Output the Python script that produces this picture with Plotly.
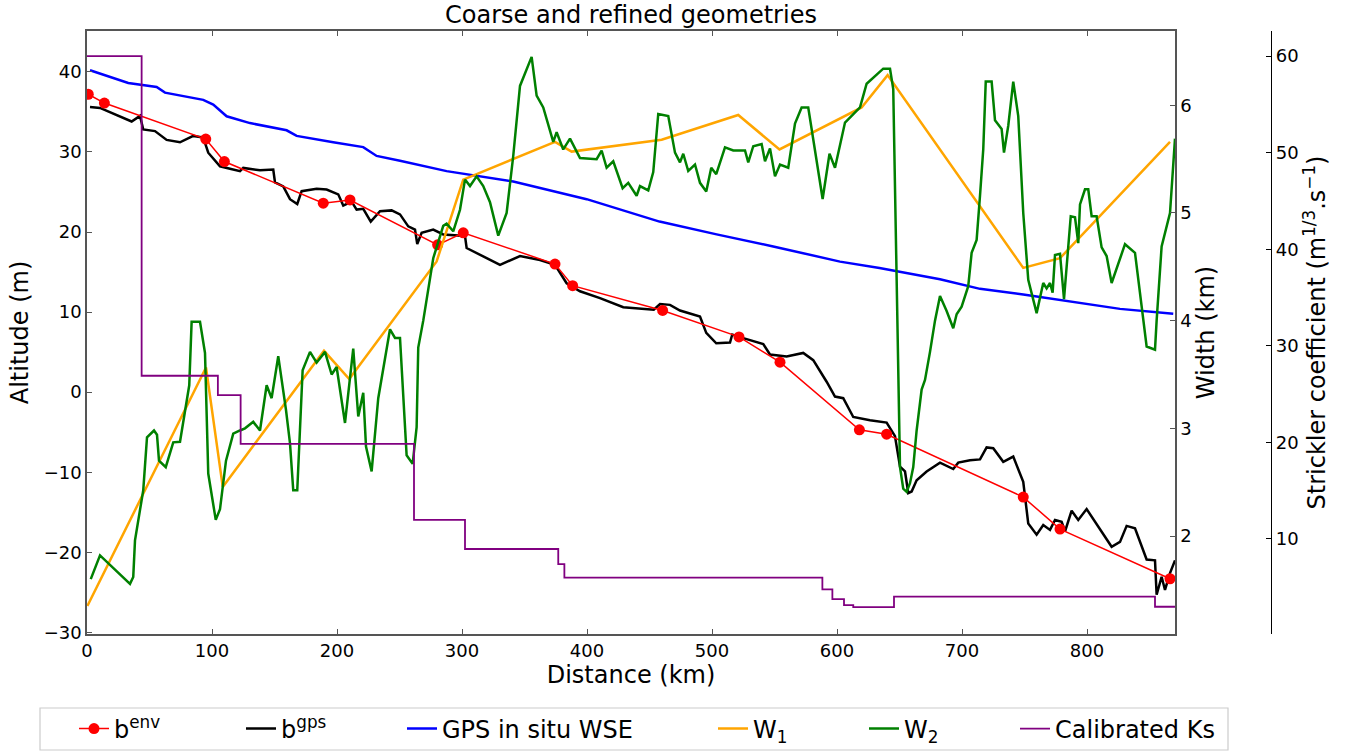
import plotly.graph_objects as go

# ---------------- data ----------------
benv_x = [1, 13.9, 95, 109.9, 189, 210.4, 280.5, 301, 374.4, 388.5, 460.5, 521.6,
          554.4, 617.9, 639.7, 749, 778.4, 866.4]
benv_alt = [37.2, 36.1, 31.6, 28.8, 23.6, 24.0, 18.4, 19.9, 16.0, 13.3, 10.2, 6.9,
            3.75, -4.7, -5.25, -13.1, -17.1, -23.3]

bgps_x = [2.4, 10.4, 35.7, 42.4, 45, 54.4, 63.7, 74.4, 85, 93, 97, 106.4, 114.4, 122.4,
          125, 138.4, 149, 150.4, 157, 162.4, 168.2, 171.7, 183.7, 191.7, 201, 205, 211.7,
          215.7, 221, 227, 234.4, 243.7, 250.4, 257, 262.4, 264.2, 267.7, 277, 285, 302.4,
          303.7, 317, 330.4, 346.4, 362.4, 374.4, 383.7, 394.4, 410.4, 429, 448, 453.4,
          458.4, 466.4, 474.4, 490.4, 495.4, 503.4, 514.4, 516.2, 525, 541, 546.4, 559.7,
          573, 581, 591.7, 598.4, 605, 613, 626.4, 634.4, 639.7, 646.4, 650.4, 654.4, 657,
          659.7, 663.7, 671.7, 682.4, 693, 697, 706.4, 714.4, 719.7, 725, 733, 741, 749,
          753, 759.7, 765, 770.4, 774.4, 779.7, 782.4, 787.7, 793, 799.7, 809, 819.7,
          826.4, 831.7, 838.4, 847.7, 854.4, 855.7, 859.7, 862.4, 866.4, 870.4]
bgps_alt = [35.6, 35.5, 33.8, 34.5, 32.8, 32.6, 31.5, 31.2, 32.0, 31.8, 29.9, 28.2, 27.9,
            27.6, 28.0, 27.7, 27.8, 26.2, 25.7, 24.1, 23.5, 25.1, 25.4, 25.3, 24.7, 23.3,
            23.8, 22.8, 22.9, 21.3, 22.6, 22.7, 22.2, 20.7, 20.3, 18.5, 19.9, 20.3, 19.7,
            19.5, 18.0, 17.0, 15.9, 17.0, 16.5, 15.9, 13.6, 12.6, 11.75, 10.6, 10.4, 10.3,
            11.0, 10.9, 10.2, 9.45, 7.4, 6.1, 6.2, 7.2, 6.75, 6.0, 4.7, 4.45, 4.9, 4.0, 1.3,
            -0.55, -0.75, -3.1, -3.5, -3.7, -3.8, -5.5, -9.3, -9.9, -12.6, -12.4, -11.0,
            -9.9, -8.8, -9.6, -8.8, -8.5, -8.4, -6.9, -7.0, -8.7, -8.05, -11.2, -16.4,
            -17.8, -16.6, -17.2, -15.96, -16.2, -17.4, -14.8, -15.96, -14.6, -16.8, -19.3,
            -18.7, -16.7, -17.0, -20.9, -21.0, -25.3, -23.05, -24.7, -22.6, -21.0]

wse_x = [2.4, 33, 55.7, 62.4, 93, 101, 111.7, 130.4, 159.7, 167.7, 197, 221, 231.7, 250.4,
         287.7, 341, 399.7, 458, 503.7, 549, 602.4, 634, 682.4, 714.4, 749, 783.7, 826.4, 869]
wse_alt = [40.2, 38.6, 38.1, 37.4, 36.5, 35.9, 34.45, 33.6, 32.7, 32.0, 31.2, 30.6, 29.5,
           28.9, 27.6, 26.3, 24.1, 21.3, 19.7, 18.2, 16.3, 15.5, 14.1, 12.9, 12.2, 11.4,
           10.4, 9.8]

w1_x = [0.3, 95.2, 108.6, 189.6, 209.8, 279.7, 301, 374.4, 387.7, 459.7, 521, 554, 619.7,
        640.5, 749, 778.4, 866.4]
w1_km = [1.35, 3.565, 2.456, 3.72, 3.457, 4.55, 5.31, 5.66, 5.57, 5.68, 5.91, 5.59, 5.98,
         6.28, 4.49, 4.58, 5.66]

w2_x = [3, 10.4, 34.4, 37, 38.4, 45, 48, 53.6, 56, 57.6, 63, 69, 74.4, 81.8, 83.7, 90.4,
        94.4, 97, 103, 106.4, 111.2, 117, 122.4, 126.4, 133, 138.4, 143.7, 147.7, 153,
        159.2, 162.4, 165, 168.2, 172.5, 178.4, 183.7, 190.4, 195.7, 199.7, 206.4, 213, 217,
        221, 223.2, 227.7, 233, 242.4, 246.4, 250.4, 255.7, 260.5, 263.7, 265, 269, 277,
        285, 287.7, 293, 298.4, 302.4, 306.4, 311.7, 317, 322.4, 329, 335.7, 341, 346.4,
        355.7, 359.7, 365, 373, 375.7, 381, 386.4, 394.4, 407.7, 411.7, 415.7, 421, 428.5,
        433, 439.7, 442.4, 449, 453, 457, 465, 470.4, 474.4, 477, 481, 486.4, 490.4, 495.4,
        499.4, 503.4, 510.4, 517, 526.4, 529, 533, 539.7, 542.4, 546.4, 550.4, 554.4, 561,
        566.4, 571.7, 577, 582.4, 588.5, 594, 598.4, 606.4, 618.4, 623.7, 631.7, 637,
        642.4, 645, 650.4, 653, 655.7, 658.4, 661, 663.7, 667.7, 670.4, 674.4, 678.4,
        682.4, 687.7, 693, 695.7, 699.7, 705, 707.7, 711.7, 714.4, 717, 719, 723.7, 726.4,
        731.7, 733.6, 737, 741, 745, 749, 753, 759.7, 765, 767.7, 770.4, 772.5, 774.4,
        778.4, 781.6, 787, 790.4, 793, 794.4, 798.4, 801, 803.7, 807.7, 811.7, 815.7,
        819.7, 830.4, 838.4, 842.4, 846.4, 847.7, 854.4, 855.7, 859.7, 862.4, 866.4, 870.4]
w2_km = [1.60, 1.82, 1.556, 1.62, 1.96, 2.425, 2.916, 2.98, 2.94, 2.70, 2.64, 2.87, 2.875,
         3.40, 3.99, 3.99, 3.70, 2.58, 2.15, 2.25, 2.70, 2.95, 2.98, 3.0, 3.06, 2.98, 3.40,
         3.28, 3.67, 3.17, 2.86, 2.425, 2.425, 3.54, 3.71, 3.61, 3.71, 3.50, 3.57, 3.05,
         3.74, 3.11, 3.33, 2.83, 2.60, 3.28, 3.92, 3.84, 3.84, 2.75, 2.67, 3.01, 3.75, 4.0,
         4.58, 4.88, 4.90, 4.83, 5.03, 5.31, 5.25, 5.34, 5.25, 5.10, 4.79, 5.0, 5.53, 6.18,
         6.45, 6.09, 5.98, 5.66, 5.75, 5.59, 5.69, 5.51, 5.50, 5.58, 5.42, 5.48, 5.23, 5.28,
         5.16, 5.25, 5.21, 5.38, 5.92, 5.90, 5.56, 5.47, 5.55, 5.39, 5.45, 5.28, 5.20, 5.42,
         5.36, 5.61, 5.58, 5.58, 5.47, 5.62, 5.64, 5.48, 5.60, 5.34, 5.45, 5.42, 5.83, 5.98,
         5.98, 5.59, 5.13, 5.55, 5.42, 5.84, 5.98, 6.20, 6.28, 6.34, 6.34, 6.15, 2.64, 2.44,
         2.41, 2.49, 2.64, 2.98, 3.36, 3.45, 3.71, 4.0, 4.23, 4.09, 3.93, 4.06, 4.13, 4.32,
         4.63, 4.75, 5.16, 5.59, 6.22, 6.22, 5.86, 5.78, 5.56, 5.81, 6.22, 5.90, 5.0, 4.38,
         4.07, 4.35, 4.30, 4.35, 4.26, 4.61, 4.62, 4.20, 4.97, 4.96, 4.72, 5.08, 5.22, 5.22,
         4.97, 4.97, 4.68, 4.60, 4.35, 4.71, 4.63, 4.26, 3.89, 3.76, 3.73, 4.0, 4.69, 4.82,
         5.0, 5.69]

ks_x = [0, 43.7, 104.7, 122.9, 261.6, 302.4, 377, 381.9, 588.3, 596.3, 605.6, 613, 645.6,
        854.4, 870.4]
ks_val = [60, 26.9, 24.9, 19.85, 11.97, 8.96, 7.4, 5.99, 4.79, 3.78, 3.16, 2.95, 4.02,
          2.98, 2.98]

x_ticks = [0, 100, 200, 300, 400, 500, 600, 700, 800]
alt_ticks = [-30, -20, -10, 0, 10, 20, 30, 40]
width_ticks = [2, 3, 4, 5, 6]
ks_ticks = [10, 20, 30, 40, 50, 60]

# ---------------- figure ----------------
FONT = "DejaVu Sans"
W, H = 1349, 754
fig = go.Figure()

fig.add_trace(go.Scatter(x=bgps_x, y=bgps_alt, mode="lines", name="b<sup>gps</sup>",
                         line=dict(color="black", width=2.5), yaxis="y", legend="legend3"))
fig.add_trace(go.Scatter(x=benv_x, y=benv_alt, mode="lines+markers", name="b<sup>env</sup>",
                         line=dict(color="red", width=1.5),
                         marker=dict(color="red", size=11), yaxis="y", legend="legend2"))
fig.add_trace(go.Scatter(x=wse_x, y=wse_alt, mode="lines", name="GPS in situ WSE",
                         line=dict(color="blue", width=2.5), yaxis="y", legend="legend4"))
fig.add_trace(go.Scatter(x=w1_x, y=w1_km, mode="lines", name="W<sub>1</sub>",
                         line=dict(color="orange", width=2.5), yaxis="y2", legend="legend5"))
fig.add_trace(go.Scatter(x=w2_x, y=w2_km, mode="lines", name="W<sub>2</sub>",
                         line=dict(color="green", width=2.5), yaxis="y2", legend="legend6"))
fig.add_trace(go.Scatter(x=ks_x, y=ks_val, mode="lines", name="Calibrated Ks",
                         line=dict(color="purple", width=1.8, shape="hv"),
                         yaxis="y3", legend="legend7"))

L, R, T, B = 87, 1271, 31, 634
PW = R - L
PH = B - T
xdom = (1175 - L) / PW


def px2x(px):
    return (px - L) / PW


def py2y(py):
    return (B - py) / PH


axis_common = dict(showline=True, linecolor="#555555", linewidth=1.5, ticks="inside",
                   ticklen=5, tickwidth=1.2, tickcolor="#555555", showgrid=False,
                   zeroline=False, tickfont=dict(size=18, color="black", family=FONT))

leg_common = dict(orientation="h", yanchor="middle", xanchor="left",
                  xref="container", yref="container", y=1 - 729 / H,
                  bgcolor="rgba(0,0,0,0)", borderwidth=0,
                  font=dict(size=24, color="black", family=FONT))

fig.update_layout(
    width=W, height=H,
    margin=dict(l=L, r=W - R, t=T, b=H - B),
    paper_bgcolor="white", plot_bgcolor="white",
    font=dict(family=FONT, color="black"),
    showlegend=True,
    title=dict(text="Coarse and refined geometries", x=px2x(631), xref="paper",
               y=1 - 15 / H, yref="container", xanchor="center", yanchor="middle",
               font=dict(size=24, color="black", family=FONT)),
    xaxis=dict(domain=[0, xdom], range=[0, 870.4], tickvals=x_ticks, mirror="ticks",
               title=dict(text="Distance (km)", standoff=2,
                          font=dict(size=24, family=FONT, color="black")),
               **axis_common),
    yaxis=dict(range=[-30.2, 45.1], tickvals=alt_ticks,
               title=dict(text="Altitude (m)", standoff=8,
                          font=dict(size=24, family=FONT, color="black")),
               **axis_common),
    yaxis2=dict(range=[1.09, 6.69], tickvals=width_ticks, overlaying="y", anchor="x",
                side="right",
                title=dict(text="Width (km)", standoff=3,
                           font=dict(size=24, family=FONT, color="black")),
                **axis_common),
    yaxis3=dict(range=[0.16, 62.6], tickvals=ks_ticks, overlaying="y", anchor="free",
                position=1.0, side="right", showline=True, linecolor="black", linewidth=1.2,
                ticks="inside", ticklen=5, tickcolor="black", showgrid=False, zeroline=False,
                tickfont=dict(size=18, color="black", family=FONT),
                title=dict(text="Strickler coefficient (m<sup>1/3</sup>.s<sup>\u22121</sup>)",
                           standoff=8, font=dict(size=24, family=FONT, color="black"))),
    legend2=dict(x=74 / W, **leg_common),
    legend3=dict(x=241 / W, **leg_common),
    legend4=dict(x=402 / W, **leg_common),
    legend5=dict(x=713 / W, **leg_common),
    legend6=dict(x=864 / W, **leg_common),
    legend7=dict(x=1015 / W, **leg_common),
    shapes=[dict(type="rect", xref="paper", yref="paper",
                 x0=px2x(40), x1=px2x(1228), y0=py2y(750), y1=py2y(708),
                 line=dict(color="#cccccc", width=1.2), fillcolor="rgba(0,0,0,0)",
                 layer="below")],
)

fig.write_html("out.html", config={"displayModeBar": False},
               post_script="document.body.style.margin='0';")
